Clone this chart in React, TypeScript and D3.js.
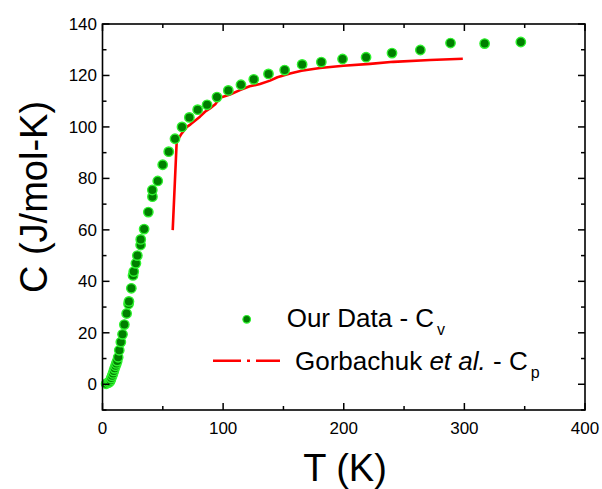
import React from "react";
import * as d3 from "d3";

const ourT = [3, 5, 6, 6.7, 7.3, 8, 8.7, 9.4, 10.1, 10.8, 11.5, 12.2, 13, 13.9, 15.2, 16.6, 18.1, 20.0, 21.6, 21.9, 23.9, 25.3, 25.9, 27.7, 28.9, 31.6, 31.7, 34.5, 38.0, 41.4, 41.3, 45.8, 49.9, 54.9, 60.1, 65.9, 72.0, 78.9, 86.7, 94.9, 104.3, 114.8, 125.4, 137.6, 151.0, 165.5, 181.4, 199.0, 218.5, 240, 263.5, 288.5, 316.8, 346.8];
const ourC = [0.2, 0.6, 1.0, 1.6, 2.4, 3.3, 4.2, 5.2, 6.2, 7.2, 8.1, 9.0, 10.5, 13.2, 16.4, 19.4, 23.2, 27.5, 31.2, 32.2, 37.3, 42.3, 43.8, 47.0, 50.0, 54.1, 56.3, 60.3, 66.9, 72.9, 75.5, 79.0, 85.3, 90.4, 95.4, 100.0, 103.7, 106.7, 108.6, 111.6, 114.2, 116.4, 118.5, 120.6, 122.1, 124.3, 125.2, 126.4, 127.1, 128.7, 129.9, 132.6, 132.4, 133.0];

const refT = [58.2, 61.5, 65.7, 70, 73, 80.8, 85, 89.1, 93.5, 97.4, 105.7, 114, 122, 130.6, 138.9, 145, 155.5, 165, 180.3, 199.7, 221.8, 241.1, 271.6, 298.7];
const refC = [59.9, 94.3, 97.5, 100, 101, 104, 105.9, 107.2, 108.8, 111.3, 112.6, 114.3, 115.8, 116.7, 118, 119.3, 120.8, 121.8, 122.9, 123.8, 124.5, 125.3, 126, 126.5];

const xMajor = [0, 100, 200, 300, 400];
const xMinor = [50, 150, 250, 350];
const yMajor = [0, 20, 40, 60, 80, 100, 120, 140];
const yMinor = [-10, 10, 30, 50, 70, 90, 110, 130];

const W = 602;
const H = 489;
const L = 102.5, R = 585, T = 24, B = 410;

export default function App() {
  const x = d3.scaleLinear().domain([0, 400]).range([L, R]);
  const y = d3.scaleLinear().domain([-10, 140]).range([B, T]);
  const line = d3.line<number>().x((_, i) => x(refT[i])).y((_, i) => y(refC[i]));
  const font = "Arial, 'Liberation Sans', Helvetica, sans-serif";
  const major = 7, minor = 4;
  return (
    <svg width={W} height={H} style={{ position: "absolute", left: 0, top: 0 }} fontFamily={font}>
      <rect width={W} height={H} fill="#fff" />
      <path d={line(refC) || ""} fill="none" stroke="#ff0000" strokeWidth={2.6} strokeLinejoin="round" />
      {ourT.map((t, i) => (
        <circle key={i} cx={x(t)} cy={y(ourC[i])} r={4.7} fill="#007f00" stroke="#2ef22e" strokeWidth={1.4} />
      ))}
      <rect x={L} y={T} width={R - L} height={B - T} fill="none" stroke="#000" strokeWidth={1.6} />
      {xMajor.map((v) => (
        <g key={"xM" + v}>
          <line x1={x(v)} x2={x(v)} y1={B} y2={B - major} stroke="#000" strokeWidth={1.5} />
          <line x1={x(v)} x2={x(v)} y1={T} y2={T + major} stroke="#000" strokeWidth={1.5} />
          <text x={x(v)} y={B + 23.5} fontSize={17} textAnchor="middle">{v}</text>
        </g>
      ))}
      {xMinor.map((v) => (
        <g key={"xm" + v}>
          <line x1={x(v)} x2={x(v)} y1={B} y2={B - minor} stroke="#000" strokeWidth={1.5} />
          <line x1={x(v)} x2={x(v)} y1={T} y2={T + minor} stroke="#000" strokeWidth={1.5} />
        </g>
      ))}
      {yMajor.map((v) => (
        <g key={"yM" + v}>
          <line x1={L} x2={L + major} y1={y(v)} y2={y(v)} stroke="#000" strokeWidth={1.5} />
          <line x1={R} x2={R - major} y1={y(v)} y2={y(v)} stroke="#000" strokeWidth={1.5} />
          <text x={L - 5.5} y={y(v) + 6} fontSize={17} textAnchor="end">{v}</text>
        </g>
      ))}
      {yMinor.map((v) => (
        <g key={"ym" + v}>
          <line x1={L} x2={L + minor} y1={y(v)} y2={y(v)} stroke="#000" strokeWidth={1.5} />
          <line x1={R} x2={R - minor} y1={y(v)} y2={y(v)} stroke="#000" strokeWidth={1.5} />
        </g>
      ))}
      <text x={345} y={481} fontSize={38} textAnchor="middle">T (K)</text>
      <text transform="translate(47,197) rotate(-90)" fontSize={38} textAnchor="middle">C (J/mol-K)</text>
      <circle cx={246.7} cy={319.3} r={3.8} fill="#007f00" stroke="#2ef22e" strokeWidth={1.2} />
      <text x={286.7} y={327.3} fontSize={26}>
        Our Data - C<tspan fontSize={16} dx={3} dy={8}>v</tspan>
      </text>
      <line x1={213} x2={280} y1={360.7} y2={360.7} stroke="#ff0000" strokeWidth={2.6} strokeDasharray="28 6 3 6" />
      <text x={295} y={370} fontSize={26}>
        Gorbachuk <tspan fontStyle="italic">et al.</tspan> - C<tspan fontSize={16} dx={3} dy={8}>p</tspan>
      </text>
    </svg>
  );
}
